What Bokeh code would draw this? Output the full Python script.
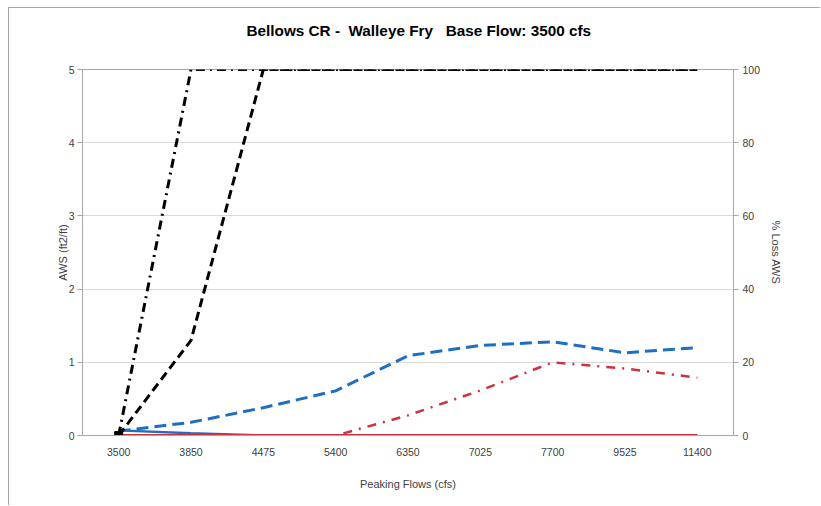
from bokeh.plotting import figure
from bokeh.models import FactorRange, Range1d, LinearAxis, FixedTicker, Title
from bokeh.embed import file_html
from bokeh.resources import INLINE

# ---- data ----
flows = ["3500", "3850", "4475", "5400", "6350", "7025", "7700", "9525", "11400"]
aws_peak = [0.06, 0.18, 0.38, 0.61, 1.09, 1.23, 1.28, 1.13, 1.20]      # blue dashed (left axis)
aws_base = [0.07, 0.03, 0.0, 0.0, 0.0, 0.0, 0.0, 0.0, 0.0]             # blue solid (left axis)
loss_peak = [0, 0, 0, 0, 5.5, 12.3, 20.0, 18.3, 15.8]                  # red dash-dot (% loss)
loss_base = [0, 0, 0, 0, 0, 0, 0, 0, 0]                               # red solid (% loss)
loss_a = [0, 26, 100, 100, 100, 100, 100, 100, 100]                    # black dashed (% loss)
loss_b = [0, 100, 100, 100, 100, 100, 100, 100, 100]                   # black dash-dot (% loss)
left_ticks = [0, 1, 2, 3, 4, 5]
right_ticks = [0, 20, 40, 60, 80, 100]
title_text = "Bellows CR -\u00a0 Walleye Fry\u00a0\u00a0 Base Flow: 3500 cfs"

FONT = "Liberation Sans"
BLUE = "#1f6fc1"
RED = "#cc3340"

p = figure(x_range=FactorRange(*flows, range_padding=0), y_range=Range1d(0, 5),
           width=812, height=498, output_backend="svg", toolbar_location=None,
           min_border_left=73, min_border_right=88, min_border_top=61, min_border_bottom=71,
           title=title_text)
p.extra_y_ranges = {"pct": Range1d(0, 100)}
p.styles = {"margin-left": "8px", "margin-top": "7px",
            "border-left": "1px solid #a6a6a6", "border-top": "1px solid #a6a6a6"}

p.title.text_font = FONT
p.title.text_font_size = "15.3px"
p.title.text_font_style = "bold"
p.title.align = "left"
p.title.offset = 164
p.title.standoff = 0
p.title.text_color = "#000000"
# empty spacer between the title and the plot area
p.add_layout(Title(text=" ", text_font_size="18px", standoff=9), "above")

p.background_fill_color = "white"
p.border_fill_color = "white"
p.outline_line_color = "#a6a6a6"
p.outline_line_width = 1

p.xgrid.grid_line_color = None
p.ygrid.grid_line_color = "#d9d9d9"
p.ygrid.ticker = FixedTicker(ticks=left_ticks)

# left axis
ya = p.yaxis[0]
ya.ticker = FixedTicker(ticks=left_ticks)
ya.axis_label = "AWS (ft2/ft)"
ya.minor_tick_line_color = None
ya.major_tick_in = 0
ya.major_tick_out = 5
ya.major_label_standoff = 3
ya.axis_label_standoff = -3

# right axis
ra = LinearAxis(y_range_name="pct", ticker=FixedTicker(ticks=right_ticks), axis_label="% Loss AWS")
ra.minor_tick_line_color = None
ra.major_tick_in = 0
ra.major_tick_out = 5
ra.major_label_standoff = 4
ra.axis_label_standoff = 7
p.add_layout(ra, "right")

# bottom axis
xa = p.xaxis[0]
xa.axis_label = "Peaking Flows (cfs)"
xa.major_tick_in = 0
xa.major_tick_out = 0
xa.major_label_standoff = 12
xa.axis_label_standoff = 19

for ax in (ya, ra, xa):
    ax.axis_line_color = "#a6a6a6"
    ax.major_tick_line_color = "#a6a6a6"
    ax.major_label_text_font = FONT
    ax.major_label_text_font_size = "10.5px"
    ax.major_label_text_color = "#404040"
    ax.axis_label_text_font = FONT
    ax.axis_label_text_font_size = "11px"
    ax.axis_label_text_font_style = "normal"
    ax.axis_label_text_color = "#404040"

# series
p.line(flows, aws_base, line_color=BLUE, line_width=2.5)
p.line(flows, loss_base, y_range_name="pct", line_color=RED, line_width=3)
p.line(flows, aws_peak, line_color=BLUE, line_width=3, line_dash="12 6")
p.line(flows, loss_peak, y_range_name="pct", line_color=RED, line_width=2.5, line_dash="9 7 2 7")
p.line(flows, loss_a, y_range_name="pct", line_color="black", line_width=3, line_dash="9 5")
p.line(flows, loss_b, y_range_name="pct", line_color="black", line_width=3, line_dash="9 5 2 5")
p.scatter(flows[:1], loss_a[:1], y_range_name="pct", marker="square", size=8, color="black")

open("out.html", "w").write(file_html(p, INLINE))
